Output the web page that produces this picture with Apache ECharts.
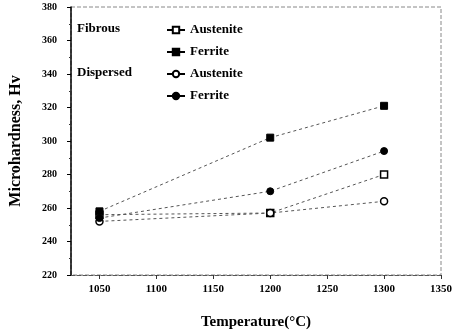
<!DOCTYPE html>
<html>
<head>
<meta charset="utf-8">
<script src="https://cdn.jsdelivr.net/npm/echarts@6/dist/echarts.min.js"></script>
<style>html,body{margin:0;padding:0;background:#fff}#c{width:455px;height:335px}</style>
</head>
<body>
<div id="c"></div>
<script>
var temperatures = [1050, 1200, 1300];
var fibrousAustenite = [256, 257, 280];
var fibrousFerrite = [258, 302, 321];
var dispersedAustenite = [252, 257, 264];
var dispersedFerrite = [254, 270, 294];
var xTickLabels = [1050, 1100, 1150, 1200, 1250, 1300, 1350];
var yTickLabels = [220, 240, 260, 280, 300, 320, 340, 360, 380];

function pairs(vals) { return temperatures.map(function (t, i) { return [t, vals[i]]; }); }

var serif = 'Liberation Serif';
var lineStyle = { color: '#555', width: 1, type: [3, 3] };

function mk(name, vals, symbol, open) {
  return {
    name: name, type: 'line', data: pairs(vals), symbol: symbol, symbolSize: 7,
    lineStyle: lineStyle,
    itemStyle: { color: open ? '#fff' : '#000', borderColor: '#000', borderWidth: open ? 1.5 : 1 },
    emphasis: { disabled: true }, animation: false
  };
}

var chart = echarts.init(document.getElementById('c'), null, { renderer: 'canvas' });
chart.setOption({
  animation: false,
  grid: { left: 70, right: 8, top: 7, bottom: 58, show: true, borderColor: '#888', borderWidth: 1, borderType: 'dashed' },
  xAxis: {
    type: 'value', min: 1025, max: 1350,
    name: 'Temperature(°C)', nameLocation: 'middle', nameGap: 40,
    nameTextStyle: { fontFamily: serif, fontWeight: 'bold', fontSize: 15, color: '#000' },
    axisLine: { show: true, lineStyle: { color: '#555', type: 'dashed' } },
    axisTick: { show: true, length: 4, lineStyle: { color: '#333' }, customValues: xTickLabels },
    axisLabel: { customValues: xTickLabels, fontFamily: serif, fontWeight: 'bold', fontSize: 11, color: '#000', margin: 9,
      formatter: function (v) { return String(v); } },
    splitLine: { show: false }
  },
  yAxis: {
    type: 'value', min: 220, max: 380, interval: 20,
    name: 'Microhardness, Hv', nameLocation: 'middle', nameGap: 47, nameRotate: 90,
    nameTextStyle: { fontFamily: serif, fontWeight: 'bold', fontSize: 16, color: '#000' },
    axisLine: { show: true, lineStyle: { color: '#000', width: 1.5 } },
    axisTick: { show: true, length: 4, lineStyle: { color: '#000' } },
    minorTick: { show: true, splitNumber: 2, length: 2, lineStyle: { color: '#333' } },
    axisLabel: { fontFamily: serif, fontWeight: 'bold', fontSize: 10, color: '#000', margin: 14,
      formatter: function (v) { return yTickLabels.indexOf(v) >= 0 ? String(v) : ''; } },
    splitLine: { show: false }
  },
  legend: {
    orient: 'vertical', left: 161, top: 18, itemWidth: 18, itemHeight: 8, itemGap: 8,
    formatter: function (n) { return n.split(' ')[1]; },
    lineStyle: { type: 'solid', color: '#000' },
    textStyle: { fontFamily: serif, fontWeight: 'bold', fontSize: 13, color: '#000', lineHeight: 14, padding: [0, 0, 0, 0] },
    selectedMode: false,
    data: ['Fibrous Austenite', 'Fibrous Ferrite', 'Dispersed Austenite', 'Dispersed Ferrite']
  },
  graphic: [
    { type: 'text', left: 77, top: 22, style: { text: 'Fibrous', font: 'bold 13px "Liberation Serif"', fill: '#000' } },
    { type: 'text', left: 77, top: 66, style: { text: 'Dispersed', font: 'bold 13px "Liberation Serif"', fill: '#000' } }
  ],
  series: [
    mk('Fibrous Austenite', fibrousAustenite, 'rect', true),
    mk('Fibrous Ferrite', fibrousFerrite, 'rect', false),
    mk('Dispersed Austenite', dispersedAustenite, 'circle', true),
    mk('Dispersed Ferrite', dispersedFerrite, 'circle', false)
  ]
});
</script>
</body>
</html>
